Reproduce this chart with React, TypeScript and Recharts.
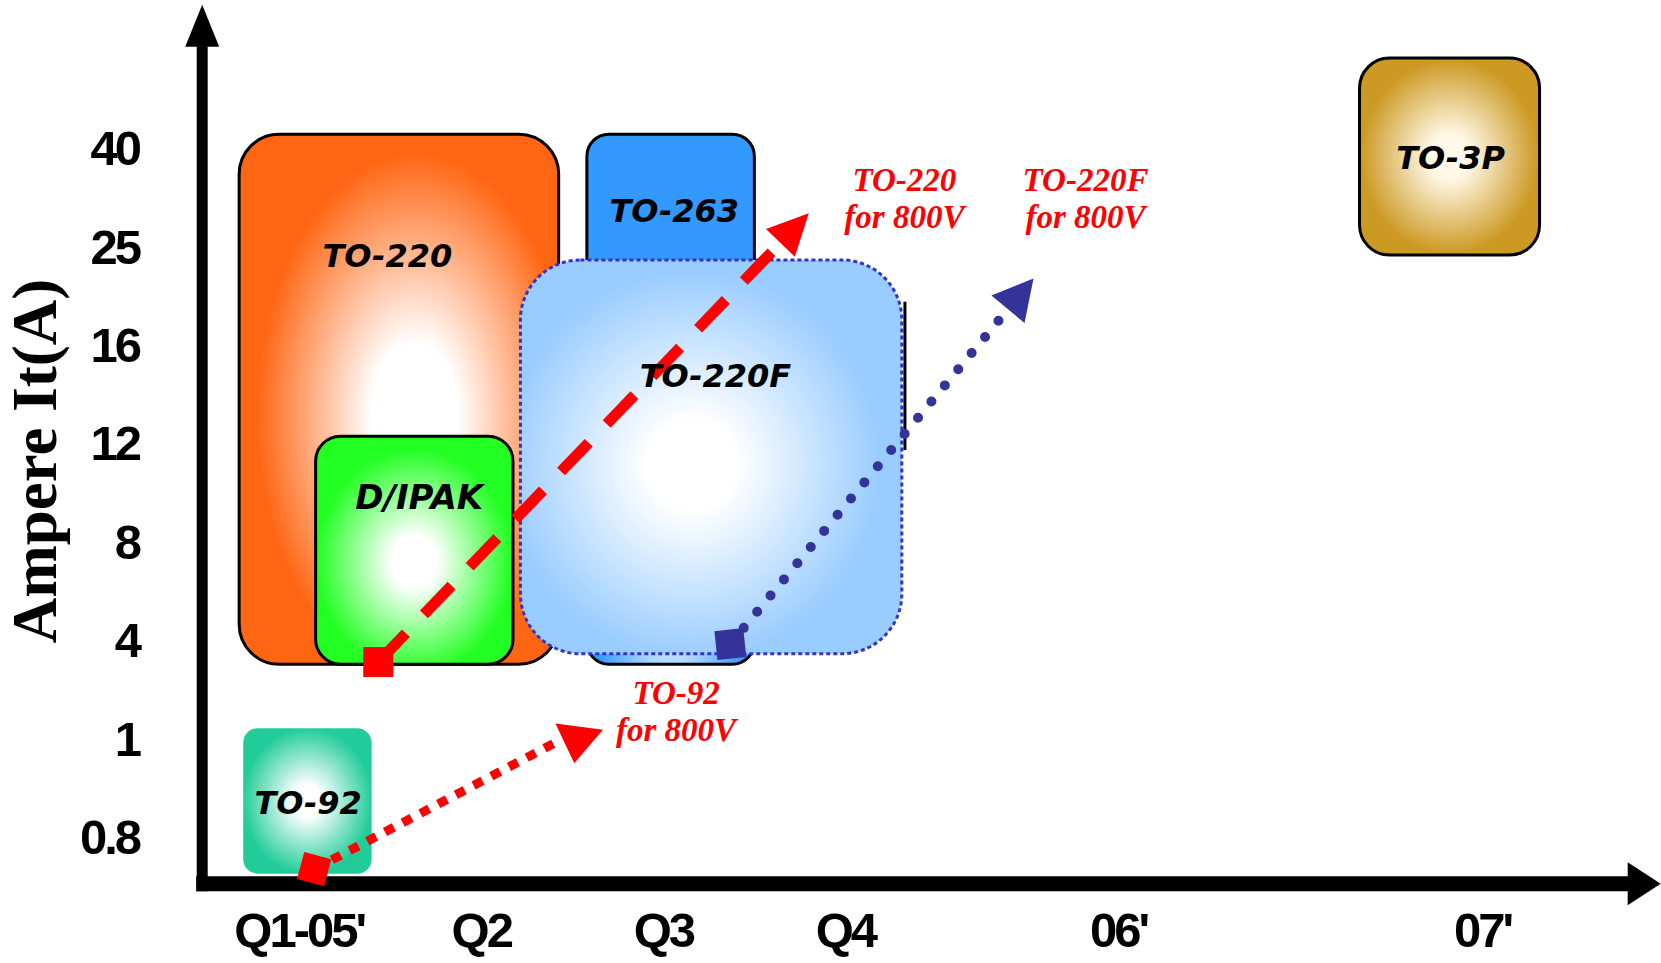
import React from 'react';
import { ComposedChart, XAxis, YAxis, Line, ReferenceArea, ReferenceDot, ReferenceLine } from 'recharts';

// time axis: quarters of 2005, then years (uneven spacing as in the roadmap)
const quarters = ["Q1-05'", 'Q2', 'Q3', 'Q4', "06'", "07'"];
const quarterPos = [1, 2, 3, 4, 5.5, 7.5];

// current axis: evenly spaced steps
const amps = ['0.8', '1', '4', '8', '12', '16', '25', '40'];
const ampPos = [0, 1, 2, 3, 4, 5, 6, 7];

// package blocks (x = time position, y = current step)
const packages = ['TO-220', 'TO-263', 'D/IPAK', 'TO-220F', 'TO-92', 'TO-3P'];
const pkgFrom = [0.67, 2.58, 1.09, 2.215, 0.684, 6.824];
const pkgTo = [2.425, 3.5, 2.174, 4.31, 1.406, 7.813];
const pkgLow = [1.754, 1.754, 1.754, 1.86, -0.388, 5.91];
const pkgHigh = [7.137, 7.137, 4.07, 5.86, 1.119, 7.91];
const pkgLabelX = [1.484, 3.06, 1.659, 3.286, 1.049, 7.324];
const pkgLabelY = [5.91, 6.36, 3.453, 4.684, 0.354, 6.898];

// 800V development paths
const targets = ['TO-220', 'TO-220F', 'TO-92'];
const pathFromX = [1.434, 3.368, 1.082];
const pathFromY = [1.776, 1.959, -0.327];
const pathToX = [3.643, 4.893, 2.412];
const pathToY = [6.033, 5.359, 0.963];
const headX = [3.643, 4.893, 2.538];
const headY = [6.033, 5.359, 1.12];
const noteX = [4.324, 5.319, 3.07];
const noteY = [6.487, 6.487, 1.283];

// axis frame
const axisX = 0.467;
const axisY = -0.475;

const pkgStyle = [
  { color: '#FF6613', core: '#FFFFFF', rx: 40, stroke: '#000', dash: undefined, gx: 0.55, gy: 0.53, w: 0.26 },
  { color: '#3399FF', core: '#FFFFFF', rx: 22, stroke: '#000', dash: undefined, gx: 0.5, gy: 0.75, w: 0.2 },
  { color: '#22FF22', core: '#FFFFFF', rx: 25, stroke: '#000', dash: undefined, gx: 0.5, gy: 0.55, w: 0.22 },
  { color: '#99CCFF', core: '#FFFFFF', rx: 60, stroke: '#3333CC', dash: '4 3', gx: 0.45, gy: 0.52, w: 0.22 },
  { color: '#22CC99', core: '#FFFFFF', rx: 16, stroke: '#FFFFFF', dash: undefined, gx: 0.5, gy: 0.5, w: 0.2 },
  { color: '#CC9922', core: '#FFF8E6', rx: 30, stroke: '#000', dash: undefined, gx: 0.5, gy: 0.5, w: 0.22 },
];

const pathStyle = [
  { color: '#FF0000', width: 11, dash: '40 26', cap: 'butt', square: 30, turn: 0, head: null, len: 41, wid: 40 },
  { color: '#333399', width: 10, dash: '0 21', cap: 'round', square: 29, turn: -6, head: null, len: 40, wid: 43 },
  { color: '#FF0000', width: 9, dash: '10 10', cap: 'butt', square: 28, turn: 15, head: 97.7, len: 37, wid: 48 },
];

const tickFont = { fontFamily: "'Liberation Sans', Arial, sans-serif", fontWeight: 700, fontSize: 49, letterSpacing: -3 };

const triangle = (cx: number, cy: number, angle: number, len: number, wid: number, color: string) => {
  const a = (angle * Math.PI) / 180;
  const ux = Math.cos(a);
  const uy = Math.sin(a);
  const pts = [
    [cx + ux * len, cy + uy * len],
    [cx - (uy * wid) / 2, cy + (ux * wid) / 2],
    [cx + (uy * wid) / 2, cy - (ux * wid) / 2],
  ];
  return <polygon points={pts.map((p) => p.join(',')).join(' ')} fill={color} />;
};

const XTick = (props: any) => {
  const { x, y, payload } = props;
  const i = quarterPos.indexOf(payload.value);
  return (
    <text x={x} y={y} dy="0.71em" textAnchor="middle" fill="#000" style={tickFont}>
      {quarters[i]}
    </text>
  );
};

const YTick = (props: any) => {
  const { x, y, payload } = props;
  const i = ampPos.indexOf(payload.value);
  return (
    <text x={x} y={y} dy="0.355em" textAnchor="end" fill="#000" style={tickFont}>
      {amps[i]}
    </text>
  );
};

const YTitle = (props: any) => {
  const vb = props.viewBox || { x: 0, y: 0, width: 190, height: 896 };
  const x = vb.x + 34;
  const y = vb.y + vb.height / 2 + 13;
  return (
    <text x={x} y={y} dy="0.35em" textAnchor="middle" transform={`rotate(-90, ${x}, ${y})`} fill="#000"
      style={{ fontFamily: "'Liberation Serif', 'Times New Roman', serif", fontWeight: 700, fontSize: 63 }}>
      Ampere It(A)
    </text>
  );
};

const squareDot = (k: number) => (props: any) => {
  const { cx, cy, index } = props;
  const st = pathStyle[k];
  if (index !== 0) return <g key={`e${k}-${index}`} />;
  const s = st.square;
  return (
    <rect key={`s${k}`} x={cx - s / 2} y={cy - s / 2} width={s} height={s} fill={st.color}
      transform={`rotate(${st.turn}, ${cx}, ${cy})`} />
  );
};

export default function App() {
  const order = [0, 1, 2, 3, 4, 5];
  return (
    <div style={{ position: 'absolute', left: 0, top: 0, width: 1661, height: 963, background: '#fff' }}>
      <ComposedChart width={1661} height={963} margin={{ top: 0, right: 0, bottom: 0, left: 0 }}>
        <defs>
          {pkgStyle.map((s, i) => (
            <radialGradient key={i} id={`pkg${i}`} cx={s.gx} cy={s.gy} r={0.52}>
              <stop offset="0" stopColor={s.core} />
              <stop offset={s.w} stopColor={s.core} />
              <stop offset="0.95" stopColor={s.color} />
            </radialGradient>
          ))}
        </defs>
        <XAxis type="number" dataKey="x" domain={[0.4, 8.48]} ticks={quarterPos} interval={0}
          axisLine={false} tickLine={false} tickSize={0} tickMargin={16} height={67} tick={<XTick />} />
        <YAxis type="number" dataKey="y" domain={[-0.6, 8.5]} ticks={ampPos} interval={0}
          axisLine={false} tickLine={false} tickSize={0} tickMargin={51} width={190} tick={<YTick />}
          label={(p: any) => <YTitle {...p} />} />

        {order.map((i) => (
          <ReferenceArea key={`box${i}`} x1={pkgFrom[i]} x2={pkgTo[i]} y1={pkgLow[i]} y2={pkgHigh[i]}
            ifOverflow="visible"
            shape={(p: any) => (
              <rect x={p.x} y={p.y} width={p.width} height={p.height} rx={pkgStyle[i].rx} ry={pkgStyle[i].rx}
                fill={`url(#pkg${i})`} stroke={pkgStyle[i].stroke} strokeWidth={3}
                strokeDasharray={pkgStyle[i].dash} />
            )} />
        ))}

        <ReferenceLine segment={[{ x: 4.327, y: 3.93 }, { x: 4.327, y: 5.436 }]} stroke="#000" strokeWidth={3} ifOverflow="visible" />

        {/* axis frame with arrow heads */}
        <ReferenceLine segment={[{ x: axisX, y: -0.551 }, { x: axisX, y: 8.03 }]} stroke="#000" strokeWidth={11} ifOverflow="visible" />
        <ReferenceLine segment={[{ x: 0.434, y: axisY }, { x: 8.3, y: axisY }]} stroke="#000" strokeWidth={15} ifOverflow="visible" />
        <ReferenceDot x={axisX} y={8.026} r={0} ifOverflow="visible"
          shape={(p: any) => triangle(p.cx, p.cy, -90, 42, 34, '#000')} />
        <ReferenceDot x={8.297} y={axisY} r={0} ifOverflow="visible"
          shape={(p: any) => triangle(p.cx, p.cy, 0, 33, 43, '#000')} />

        {packages.map((name, i) => (
          <ReferenceDot key={`lbl${i}`} x={pkgLabelX[i]} y={pkgLabelY[i]} r={0} ifOverflow="visible"
            shape={(p: any) => (
              <text x={p.cx} y={p.cy} dy="0.36em" textAnchor="middle" fill="#000"
                style={{ fontFamily: "'DejaVu Sans', Verdana, sans-serif", fontWeight: 700, fontStyle: 'italic', fontSize: i === 2 ? 34 : 32 }}>
                {name}
              </text>
            )} />
        ))}

        {targets.map((name, k) => (
          <Line key={`path${k}`} data={[{ x: pathFromX[k], y: pathFromY[k] }, { x: pathToX[k], y: pathToY[k] }]}
            dataKey="y" stroke={pathStyle[k].color} strokeWidth={pathStyle[k].width}
            strokeDasharray={pathStyle[k].dash} strokeLinecap={pathStyle[k].cap as any}
            dot={squareDot(k)} activeDot={false} isAnimationActive={false} legendType="none" />
        ))}

        {targets.map((name, k) => (
          <ReferenceDot key={`head${k}`} x={headX[k]} y={headY[k]} r={0} ifOverflow="visible"
            shape={(p: any) => {
              const st = pathStyle[k];
              let ang = st.head;
              if (ang === null) {
                // direction follows the path, measured in the same pixel space
                const dx = headX[k] - pathFromX[k];
                const dy = headY[k] - pathFromY[k];
                ang = (Math.atan2(-dy * 98.46, dx * 182.05) * 180) / Math.PI;
              }
              return triangle(p.cx, p.cy, ang as number, st.len, st.wid, st.color);
            }} />
        ))}

        {targets.map((name, k) => (
          <ReferenceDot key={`note${k}`} x={noteX[k]} y={noteY[k]} r={0} ifOverflow="visible"
            shape={(p: any) => (
              <text textAnchor="middle" fill="#FF0000"
                style={{ fontFamily: "'Liberation Serif', 'Times New Roman', serif", fontWeight: 700, fontStyle: 'italic', fontSize: 33 }}>
                <tspan x={p.cx} y={p.cy - 7}>{name}</tspan>
                <tspan x={p.cx} y={p.cy + 30}>for 800V</tspan>
              </text>
            )} />
        ))}
      </ComposedChart>
    </div>
  );
}
